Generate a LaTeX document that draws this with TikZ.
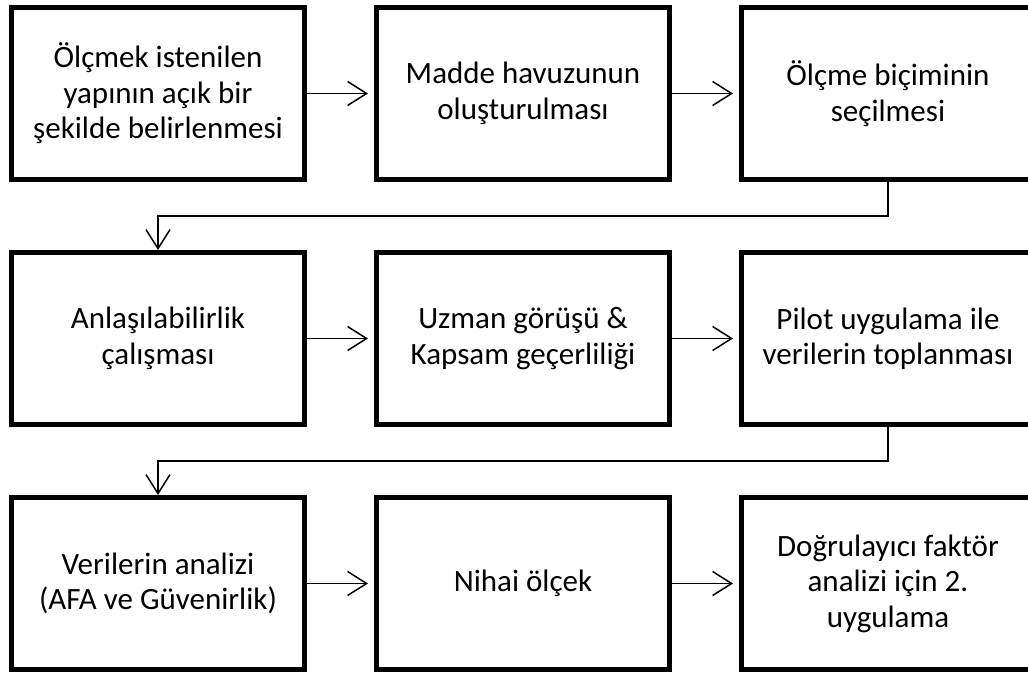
\documentclass[tikz,border=0pt]{standalone}
\usepackage{fontspec}
\setmainfont{Carlito}
\usetikzlibrary{arrows.meta,positioning,calc}
\tikzset{box/.style={draw=black,line width=5pt,minimum width=293pt,minimum height=172pt,align=center,font=\fontsize{31}{35.5}\selectfont,inner sep=0pt}, flow/.style={-{Straight Barb[length=19pt,width=24pt,line width=1.5pt]},line width=1.5pt,draw=black}}
\begin{document}
\begin{tikzpicture}[x=1pt,y=1pt,node distance=68pt and 67pt]
\useasboundingbox (0,0) rectangle (1028,-679);
\clip (0,0) rectangle (1028,-679);
\node[box] (construct) at (158,-93.5) {Ölçmek istenilen\\yapının açık bir\\şekilde belirlenmesi};
\node[box,right=of construct] (pool) {Madde havuzunun\\oluşturulması};
\node[box,right=of pool] (format) {Ölçme biçiminin\\seçilmesi};
\node[box,below=of construct] (clarity) {Anlaşılabilirlik\\çalışması};
\node[box,right=of clarity] (expert) {Uzman görüşü \&\\Kapsam geçerliliği};
\node[box,right=of expert] (pilot) {Pilot uygulama ile\\verilerin toplanması};
\node[box,below=of clarity] (analysis) {Verilerin analizi\\(AFA ve Güvenirlik)};
\node[box,right=of analysis] (final) {Nihai ölçek};
\node[box,right=of final] (cfa) {Doğrulayıcı faktör\\analizi için 2.\\uygulama};
\draw[flow,shorten >=6pt] (construct)--(pool);\draw[flow,shorten >=6pt] (pool)--(format);
\draw[flow,shorten >=6pt] (clarity)--(expert);\draw[flow,shorten >=6pt] (expert)--(pilot);
\draw[flow,shorten >=6pt] (analysis)--(final);\draw[flow,shorten >=6pt] (final)--(cfa);
\draw[flow] (format.south) |- ($(format.south)!0.5!(pilot.north)$) -| (clarity.north);
\draw[flow] (pilot.south) |- ($(pilot.south)!0.5!(cfa.north)$) -| (analysis.north);
\end{tikzpicture}
\end{document}
